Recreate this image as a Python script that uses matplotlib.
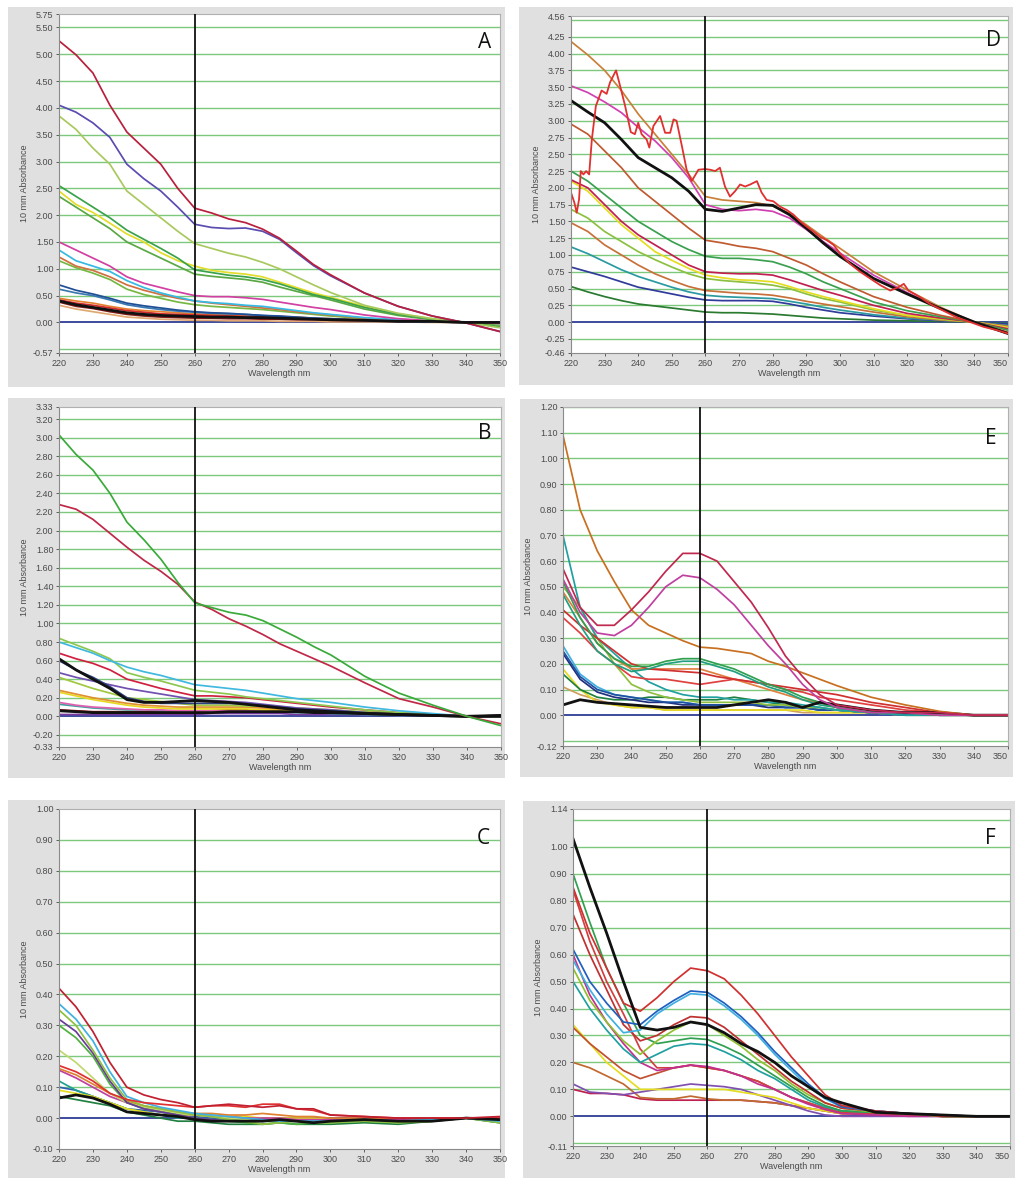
import matplotlib
matplotlib.use("Agg")
import matplotlib.pyplot as plt
from matplotlib.patches import Rectangle

W, H = 1015, 1178

# common wavelength grid (nm) for the sampled spectra
WL = [220, 225, 230, 235, 240, 245, 250, 255, 260, 265, 270,
      275, 280, 285, 290, 295, 300, 310, 320, 330, 340, 350]
X_TICKS = list(range(220, 351, 10))

# ---- panel A ----
A_SPECTRA = [
    [0.32, 0.25, 0.20, 0.15, 0.10, 0.08, 0.06, 0.05, 0.04, 0.04, 0.03, 0.03, 0.03, 0.02, 0.02, 0.02, 0.01, 0.01, 0.01, 0.00, 0.00, 0.00],
    [0.38, 0.30, 0.26, 0.20, 0.15, 0.12, 0.10, 0.09, 0.08, 0.08, 0.07, 0.07, 0.06, 0.06, 0.05, 0.05, 0.04, 0.03, 0.02, 0.01, 0.00, 0.00],
    [0.45, 0.40, 0.36, 0.30, 0.25, 0.22, 0.20, 0.18, 0.16, 0.15, 0.14, 0.13, 0.12, 0.11, 0.10, 0.08, 0.07, 0.05, 0.03, 0.01, 0.00, -0.01],
    [0.42, 0.36, 0.32, 0.27, 0.22, 0.19, 0.16, 0.15, 0.14, 0.13, 0.12, 0.11, 0.10, 0.09, 0.08, 0.07, 0.06, 0.04, 0.03, 0.02, 0.00, 0.00],
    [0.62, 0.55, 0.50, 0.42, 0.33, 0.28, 0.24, 0.21, 0.19, 0.17, 0.16, 0.15, 0.13, 0.11, 0.09, 0.08, 0.06, 0.04, 0.02, 0.01, 0.00, 0.00],
    [0.70, 0.60, 0.53, 0.45, 0.36, 0.31, 0.27, 0.23, 0.20, 0.18, 0.17, 0.15, 0.13, 0.12, 0.10, 0.08, 0.07, 0.04, 0.02, 0.01, 0.00, 0.00],
    [1.15, 1.02, 0.92, 0.80, 0.62, 0.52, 0.45, 0.38, 0.33, 0.30, 0.28, 0.26, 0.24, 0.21, 0.18, 0.15, 0.12, 0.07, 0.04, 0.02, 0.00, -0.02],
    [1.22, 1.05, 0.97, 0.85, 0.70, 0.60, 0.52, 0.45, 0.40, 0.36, 0.33, 0.30, 0.27, 0.24, 0.20, 0.17, 0.14, 0.08, 0.04, 0.02, 0.00, -0.01],
    [1.35, 1.15, 1.05, 0.95, 0.78, 0.65, 0.55, 0.47, 0.40, 0.37, 0.35, 0.32, 0.30, 0.26, 0.22, 0.18, 0.15, 0.09, 0.05, 0.02, 0.00, -0.02],
    [1.50, 1.35, 1.20, 1.05, 0.85, 0.73, 0.65, 0.57, 0.50, 0.48, 0.48, 0.46, 0.43, 0.38, 0.33, 0.28, 0.24, 0.14, 0.07, 0.03, 0.00, -0.02],
    [2.35, 2.15, 1.95, 1.75, 1.50, 1.35, 1.20, 1.05, 0.90, 0.86, 0.83, 0.80, 0.75, 0.66, 0.58, 0.50, 0.42, 0.25, 0.13, 0.05, 0.00, -0.06],
    [2.45, 2.20, 2.05, 1.85, 1.65, 1.50, 1.30, 1.15, 1.05, 0.97, 0.93, 0.90, 0.85, 0.75, 0.65, 0.55, 0.47, 0.30, 0.16, 0.07, 0.00, -0.08],
    [2.55, 2.35, 2.15, 1.95, 1.72, 1.55, 1.38, 1.20, 0.98, 0.93, 0.88, 0.85, 0.80, 0.72, 0.62, 0.52, 0.45, 0.28, 0.15, 0.06, 0.00, -0.08],
    [3.85, 3.60, 3.25, 2.95, 2.45, 2.20, 1.95, 1.70, 1.47, 1.38, 1.29, 1.22, 1.12, 1.00, 0.85, 0.70, 0.56, 0.32, 0.17, 0.07, 0.00, -0.10],
    [4.05, 3.92, 3.72, 3.45, 2.95, 2.68, 2.45, 2.15, 1.83, 1.77, 1.75, 1.76, 1.70, 1.55, 1.30, 1.06, 0.87, 0.55, 0.30, 0.12, -0.01, -0.17],
    [5.25, 4.99, 4.65, 4.05, 3.55, 3.25, 2.95, 2.50, 2.13, 2.04, 1.93, 1.86, 1.74, 1.57, 1.33, 1.08, 0.89, 0.55, 0.30, 0.12, -0.01, -0.17],
    [0.40, 0.33, 0.28, 0.23, 0.18, 0.15, 0.13, 0.12, 0.11, 0.10, 0.10, 0.09, 0.09, 0.08, 0.07, 0.06, 0.05, 0.04, 0.02, 0.02, 0.00, 0.00],
]
A_COLORS = ["#e0a870", "#8a1a1a", "#e48030", "#d42a2a", "#3a78b0", "#1f4f96",
            "#76b843", "#d0703e", "#36b9e2", "#d140a2", "#5aa844", "#e3dc2a",
            "#3aa24a", "#a9c95e", "#5a4cb0", "#b8203c", "#111111"]
A_YLIM = (-0.57, 5.75)
A_GRID = [-0.5, 0.5, 1.0, 1.5, 2.0, 2.5, 3.0, 3.5, 4.0, 4.5, 5.0, 5.5]
A_YTICKS = [-0.57, 0.0, 0.5, 1.0, 1.5, 2.0, 2.5, 3.0, 3.5, 4.0, 4.5, 5.0, 5.5, 5.75]

# ---- panel D ----
D_SPECTRA = [
    [0.53, 0.45, 0.38, 0.32, 0.27, 0.24, 0.21, 0.18, 0.15, 0.14, 0.14, 0.13, 0.12, 0.10, 0.08, 0.06, 0.05, 0.03, 0.02, 0.01, 0.00, -0.02],
    [0.82, 0.75, 0.68, 0.60, 0.52, 0.47, 0.42, 0.37, 0.33, 0.32, 0.32, 0.32, 0.31, 0.27, 0.22, 0.18, 0.14, 0.09, 0.05, 0.02, 0.00, -0.03],
    [1.12, 1.02, 0.90, 0.78, 0.68, 0.60, 0.52, 0.45, 0.40, 0.38, 0.37, 0.36, 0.35, 0.31, 0.27, 0.22, 0.18, 0.11, 0.06, 0.03, 0.00, -0.05],
    [1.48, 1.35, 1.15, 1.00, 0.85, 0.72, 0.62, 0.53, 0.47, 0.45, 0.43, 0.42, 0.40, 0.36, 0.31, 0.27, 0.23, 0.15, 0.08, 0.03, 0.00, -0.06],
    [1.68, 1.55, 1.35, 1.20, 1.05, 0.93, 0.82, 0.72, 0.65, 0.62, 0.60, 0.58, 0.55, 0.50, 0.42, 0.35, 0.30, 0.18, 0.10, 0.04, 0.00, -0.08],
    [2.10, 1.95, 1.70, 1.45, 1.25, 1.05, 0.92, 0.80, 0.70, 0.66, 0.63, 0.62, 0.60, 0.53, 0.45, 0.38, 0.32, 0.20, 0.10, 0.05, 0.00, -0.08],
    [2.12, 2.00, 1.75, 1.50, 1.30, 1.15, 1.00, 0.85, 0.75, 0.73, 0.72, 0.72, 0.70, 0.63, 0.55, 0.47, 0.40, 0.25, 0.13, 0.06, 0.00, -0.10],
    [2.25, 2.10, 1.90, 1.70, 1.50, 1.35, 1.20, 1.08, 0.98, 0.95, 0.95, 0.93, 0.90, 0.82, 0.72, 0.60, 0.50, 0.30, 0.17, 0.08, 0.00, -0.12],
    [2.95, 2.80, 2.55, 2.30, 2.00, 1.80, 1.60, 1.40, 1.22, 1.18, 1.13, 1.10, 1.05, 0.95, 0.85, 0.72, 0.60, 0.38, 0.22, 0.10, 0.00, -0.15],
    [4.18, 3.98, 3.75, 3.45, 3.10, 2.80, 2.50, 2.20, 1.87, 1.82, 1.80, 1.78, 1.73, 1.62, 1.45, 1.27, 1.10, 0.75, 0.48, 0.22, 0.00, -0.17],
    [3.52, 3.42, 3.28, 3.12, 2.90, 2.70, 2.45, 2.15, 1.75, 1.68, 1.66, 1.68, 1.65, 1.55, 1.38, 1.20, 1.03, 0.70, 0.44, 0.20, 0.00, -0.17],
    [3.30, 3.13, 2.97, 2.72, 2.45, 2.30, 2.15, 1.95, 1.68, 1.65, 1.70, 1.75, 1.74, 1.60, 1.40, 1.18, 0.98, 0.65, 0.42, 0.20, 0.00, -0.17],
]
D_COLORS = ["#2a7a30", "#303a9a", "#2a9aa0", "#c8703a", "#8cc040", "#e6dc22",
            "#c02050", "#3aa050", "#c05a30", "#c8803a", "#d040b0", "#111111"]
# the noisy red trace is sampled on its own wavelengths
D_RED_WL = [220, 221, 221.7, 222.4, 222.9, 223.7, 224.5, 225.4, 226.2, 227.4, 229.1,
            230.6, 231.6, 233.4, 234.6, 236.1, 237.8, 239, 240, 241, 242.5, 243.3,
            244.5, 246.5, 248, 249.5, 250.5, 251.4, 253, 254.4, 255.9, 257.9, 259.9,
            261.4, 262.9, 264.3, 265.8, 267.3, 268.8, 270.3, 271.8, 273.3, 275.3,
            276.7, 278.2, 280.2, 282.2, 284.2, 286.2, 288.2, 290.2, 292.1, 294.1,
            296.1, 298.1, 300.1, 303, 306, 309, 312, 315, 317.4, 319, 320.4, 323.9,
            326.8, 330.8, 334.8, 338.8, 342.7, 346.7, 350]
D_RED = [1.93, 1.78, 1.63, 1.83, 2.25, 2.20, 2.25, 2.20, 2.72, 3.22, 3.45,
         3.40, 3.57, 3.75, 3.52, 3.22, 2.83, 2.80, 2.97, 2.80, 2.72, 2.60,
         2.92, 3.07, 2.82, 2.82, 3.02, 3.00, 2.62, 2.27, 2.10, 2.27, 2.28,
         2.27, 2.25, 2.30, 2.02, 1.87, 1.95, 2.05, 2.02, 2.05, 2.10,
         1.93, 1.82, 1.80, 1.72, 1.67, 1.60, 1.50, 1.42, 1.35, 1.27,
         1.22, 1.15, 1.02, 0.87, 0.75, 0.65, 0.55, 0.47, 0.52, 0.57, 0.47, 0.37,
         0.27, 0.17, 0.07, 0.00, -0.07, -0.12, -0.17]
D_YLIM = (-0.46, 4.56)
D_GRID = [-0.25] + [0.25 * k for k in range(1, 19)]
D_YTICKS = [-0.46, -0.25] + [0.25 * k for k in range(0, 18)] + [4.56]

# ---- panel B ----
B_SPECTRA = [
    [0.02, 0.02, 0.02, 0.02, 0.02, 0.02, 0.02, 0.02, 0.02, 0.03, 0.03, 0.03, 0.03, 0.03, 0.02, 0.02, 0.02, 0.02, 0.01, 0.01, 0.00, 0.01],
    [0.07, 0.06, 0.05, 0.05, 0.05, 0.05, 0.05, 0.05, 0.05, 0.06, 0.07, 0.07, 0.07, 0.06, 0.06, 0.05, 0.04, 0.03, 0.02, 0.01, 0.00, 0.01],
    [0.13, 0.11, 0.09, 0.08, 0.07, 0.07, 0.06, 0.06, 0.06, 0.06, 0.06, 0.06, 0.05, 0.05, 0.04, 0.04, 0.03, 0.02, 0.01, 0.01, 0.00, 0.00],
    [0.15, 0.12, 0.10, 0.09, 0.08, 0.07, 0.07, 0.06, 0.06, 0.06, 0.06, 0.06, 0.06, 0.05, 0.05, 0.04, 0.04, 0.03, 0.02, 0.01, 0.00, 0.00],
    [0.26, 0.22, 0.18, 0.15, 0.12, 0.10, 0.09, 0.08, 0.08, 0.08, 0.08, 0.08, 0.07, 0.07, 0.06, 0.05, 0.05, 0.03, 0.02, 0.01, 0.00, 0.00],
    [0.28, 0.24, 0.20, 0.17, 0.14, 0.12, 0.11, 0.10, 0.10, 0.10, 0.10, 0.10, 0.09, 0.08, 0.08, 0.07, 0.06, 0.04, 0.02, 0.01, 0.00, 0.00],
    [0.42, 0.36, 0.30, 0.25, 0.20, 0.18, 0.16, 0.14, 0.12, 0.12, 0.12, 0.11, 0.11, 0.10, 0.09, 0.08, 0.07, 0.05, 0.03, 0.01, 0.00, 0.00],
    [0.47, 0.42, 0.38, 0.34, 0.30, 0.27, 0.24, 0.21, 0.18, 0.17, 0.16, 0.15, 0.13, 0.11, 0.09, 0.08, 0.07, 0.04, 0.02, 0.01, 0.00, 0.00],
    [0.60, 0.50, 0.42, 0.32, 0.20, 0.16, 0.14, 0.14, 0.14, 0.14, 0.14, 0.13, 0.12, 0.10, 0.08, 0.07, 0.06, 0.04, 0.02, 0.01, 0.00, 0.00],
    [0.68, 0.62, 0.57, 0.50, 0.40, 0.35, 0.30, 0.26, 0.22, 0.22, 0.21, 0.20, 0.18, 0.16, 0.14, 0.12, 0.10, 0.07, 0.04, 0.02, 0.00, 0.00],
    [0.84, 0.77, 0.70, 0.62, 0.47, 0.42, 0.38, 0.33, 0.28, 0.26, 0.24, 0.21, 0.19, 0.17, 0.15, 0.13, 0.11, 0.07, 0.04, 0.02, 0.00, 0.00],
    [0.80, 0.74, 0.68, 0.60, 0.53, 0.48, 0.44, 0.39, 0.34, 0.32, 0.30, 0.28, 0.25, 0.22, 0.19, 0.17, 0.15, 0.10, 0.06, 0.03, 0.00, 0.00],
    [0.62, 0.50, 0.40, 0.30, 0.18, 0.15, 0.15, 0.16, 0.17, 0.16, 0.15, 0.13, 0.11, 0.09, 0.07, 0.06, 0.05, 0.03, 0.02, 0.01, 0.00, 0.00],
    [0.06, 0.05, 0.04, 0.04, 0.04, 0.04, 0.04, 0.04, 0.04, 0.04, 0.05, 0.05, 0.05, 0.05, 0.05, 0.04, 0.04, 0.03, 0.02, 0.01, 0.00, 0.01],
    [2.28, 2.23, 2.12, 1.97, 1.82, 1.68, 1.56, 1.42, 1.23, 1.15, 1.05, 0.97, 0.88, 0.78, 0.70, 0.62, 0.54, 0.36, 0.19, 0.10, 0.00, -0.08],
    [3.03, 2.82, 2.65, 2.40, 2.09, 1.90, 1.69, 1.44, 1.22, 1.17, 1.12, 1.09, 1.03, 0.94, 0.85, 0.75, 0.66, 0.43, 0.25, 0.12, 0.00, -0.10],
]
B_COLORS = ["#7a3aa0", "#8a1010", "#40a0a0", "#e060b0", "#e8d820", "#e09030",
            "#a0c840", "#7050b0", "#304080", "#d02040", "#8cc850", "#40b8e0",
            "#111111", "#111111", "#c02848", "#3aaa3a"]
B_YLIM = (-0.33, 3.33)
B_GRID = [round(0.2 * k, 2) for k in range(-1, 17) if k != 0]
B_YTICKS = [-0.33] + [round(0.2 * k, 2) for k in range(-1, 17)] + [3.33]

# ---- panel E ----
E_SPECTRA = [
    [0.11, 0.08, 0.06, 0.04, 0.03, 0.03, 0.02, 0.02, 0.02, 0.02, 0.02, 0.02, 0.02, 0.02, 0.01, 0.01, 0.01, 0.01, 0.00, 0.00, 0.00, 0.00],
    [0.18, 0.10, 0.05, 0.04, 0.03, 0.03, 0.02, 0.02, 0.02, 0.02, 0.02, 0.02, 0.02, 0.02, 0.02, 0.01, 0.01, 0.01, 0.00, 0.00, 0.00, 0.00],
    [0.16, 0.10, 0.07, 0.06, 0.06, 0.07, 0.07, 0.06, 0.06, 0.06, 0.07, 0.06, 0.05, 0.04, 0.03, 0.03, 0.02, 0.01, 0.01, 0.00, 0.00, 0.00],
    [0.27, 0.16, 0.11, 0.08, 0.07, 0.06, 0.05, 0.05, 0.04, 0.04, 0.04, 0.04, 0.04, 0.03, 0.03, 0.02, 0.02, 0.01, 0.00, 0.00, 0.00, 0.00],
    [0.24, 0.14, 0.09, 0.07, 0.06, 0.05, 0.05, 0.04, 0.04, 0.04, 0.04, 0.04, 0.03, 0.03, 0.03, 0.02, 0.02, 0.01, 0.00, 0.00, 0.00, 0.00],
    [0.25, 0.15, 0.10, 0.08, 0.07, 0.06, 0.05, 0.05, 0.04, 0.04, 0.04, 0.04, 0.04, 0.03, 0.03, 0.02, 0.02, 0.01, 0.01, 0.00, 0.00, 0.00],
    [0.50, 0.42, 0.30, 0.20, 0.12, 0.09, 0.07, 0.06, 0.05, 0.05, 0.05, 0.05, 0.04, 0.04, 0.03, 0.03, 0.02, 0.01, 0.01, 0.00, 0.00, 0.00],
    [0.70, 0.42, 0.30, 0.24, 0.18, 0.13, 0.10, 0.08, 0.07, 0.07, 0.06, 0.06, 0.05, 0.05, 0.04, 0.03, 0.02, 0.01, 0.00, 0.00, 0.00, 0.00],
    [0.38, 0.32, 0.25, 0.20, 0.15, 0.14, 0.14, 0.13, 0.12, 0.13, 0.14, 0.13, 0.12, 0.10, 0.09, 0.07, 0.06, 0.04, 0.02, 0.01, 0.00, 0.00],
    [0.48, 0.38, 0.28, 0.22, 0.18, 0.18, 0.18, 0.18, 0.18, 0.16, 0.14, 0.12, 0.10, 0.08, 0.06, 0.05, 0.03, 0.02, 0.01, 0.00, 0.00, 0.00],
    [0.41, 0.35, 0.30, 0.25, 0.20, 0.18, 0.175, 0.17, 0.165, 0.15, 0.14, 0.13, 0.12, 0.11, 0.10, 0.09, 0.08, 0.05, 0.03, 0.01, 0.00, 0.00],
    [0.47, 0.35, 0.25, 0.20, 0.17, 0.18, 0.20, 0.21, 0.21, 0.19, 0.17, 0.14, 0.11, 0.09, 0.06, 0.04, 0.03, 0.01, 0.01, 0.00, 0.00, 0.00],
    [0.52, 0.38, 0.28, 0.22, 0.19, 0.19, 0.21, 0.22, 0.22, 0.20, 0.18, 0.15, 0.12, 0.10, 0.07, 0.05, 0.03, 0.01, 0.01, 0.00, 0.00, 0.00],
    [0.04, 0.06, 0.05, 0.045, 0.04, 0.035, 0.03, 0.03, 0.03, 0.03, 0.04, 0.05, 0.06, 0.05, 0.03, 0.05, 0.04, 0.02, 0.01, 0.01, 0.00, 0.00],
    [1.09, 0.80, 0.64, 0.52, 0.41, 0.35, 0.32, 0.29, 0.265, 0.26, 0.25, 0.24, 0.21, 0.19, 0.165, 0.14, 0.115, 0.07, 0.04, 0.015, 0.00, 0.00],
    [0.53, 0.40, 0.32, 0.31, 0.35, 0.42, 0.50, 0.545, 0.535, 0.49, 0.43, 0.35, 0.27, 0.20, 0.12, 0.06, 0.03, 0.01, 0.01, 0.00, 0.00, 0.00],
    [0.57, 0.42, 0.35, 0.35, 0.41, 0.48, 0.56, 0.63, 0.63, 0.60, 0.52, 0.44, 0.34, 0.23, 0.15, 0.08, 0.04, 0.02, 0.01, 0.01, 0.00, 0.00],
]
E_COLORS = ["#d0a060", "#e6dc22", "#208040", "#40b0e0", "#203080", "#2050a0",
            "#90c040", "#20a0a0", "#e04040", "#e08040", "#d03030", "#20a080",
            "#30a050", "#111111", "#c87020", "#c040a0", "#c02850"]
E_YLIM = (-0.12, 1.20)
E_GRID = [round(0.1 * k, 2) for k in range(-1, 13) if k != 0]
E_YTICKS = [-0.12] + [round(0.1 * k, 2) for k in range(0, 13)]

# ---- panel C ----
C_SPECTRA = [
    [0.07, 0.06, 0.05, 0.04, 0.02, 0.01, 0.00, -0.01, -0.01, -0.015, -0.02, -0.02, -0.02, -0.015, -0.02, -0.02, -0.02, -0.015, -0.02, -0.01, 0.00, -0.015],
    [0.10, 0.09, 0.07, 0.05, 0.03, 0.025, 0.02, 0.01, 0.005, 0.00, -0.005, -0.005, 0.00, -0.005, -0.005, -0.01, -0.01, -0.005, -0.01, -0.005, 0.00, 0.00],
    [0.12, 0.09, 0.07, 0.05, 0.03, 0.02, 0.01, 0.00, 0.00, -0.005, -0.01, -0.01, -0.01, -0.01, -0.01, -0.01, -0.01, -0.005, -0.01, -0.005, 0.00, -0.01],
    [0.09, 0.08, 0.07, 0.05, 0.03, 0.02, 0.01, 0.01, 0.01, 0.01, 0.005, 0.005, 0.00, 0.00, 0.00, 0.00, -0.005, 0.00, -0.005, 0.00, 0.00, 0.00],
    [0.155, 0.13, 0.10, 0.07, 0.05, 0.035, 0.025, 0.015, 0.01, 0.005, 0.005, 0.00, 0.00, 0.00, -0.005, -0.005, -0.005, 0.00, -0.005, 0.00, 0.00, 0.00],
    [0.16, 0.14, 0.11, 0.08, 0.055, 0.04, 0.03, 0.02, 0.015, 0.015, 0.01, 0.01, 0.015, 0.01, 0.005, 0.005, 0.00, 0.00, 0.00, 0.00, 0.00, 0.00],
    [0.22, 0.18, 0.13, 0.08, 0.05, 0.035, 0.025, 0.015, 0.01, 0.005, 0.00, -0.005, -0.01, -0.01, -0.01, -0.01, -0.01, -0.005, -0.01, -0.005, 0.00, -0.01],
    [0.30, 0.26, 0.20, 0.11, 0.05, 0.03, 0.02, 0.01, 0.00, -0.005, -0.01, -0.015, -0.02, -0.015, -0.02, -0.015, -0.015, -0.01, -0.015, -0.01, 0.00, -0.015],
    [0.32, 0.28, 0.21, 0.12, 0.05, 0.03, 0.02, 0.01, 0.00, -0.005, -0.01, -0.01, -0.005, -0.01, -0.01, -0.01, -0.01, -0.005, -0.01, -0.005, 0.00, -0.005],
    [0.35, 0.30, 0.22, 0.13, 0.06, 0.04, 0.03, 0.02, 0.01, 0.005, -0.005, -0.01, -0.02, -0.015, -0.01, -0.015, -0.015, -0.01, -0.015, -0.01, 0.00, -0.015],
    [0.37, 0.32, 0.25, 0.15, 0.07, 0.05, 0.035, 0.025, 0.015, 0.01, 0.005, 0.00, -0.005, -0.01, -0.01, -0.01, -0.01, -0.005, -0.01, -0.005, 0.00, -0.01],
    [0.17, 0.15, 0.12, 0.08, 0.06, 0.05, 0.045, 0.04, 0.035, 0.04, 0.04, 0.035, 0.045, 0.045, 0.03, 0.025, 0.01, 0.005, 0.00, 0.00, 0.00, 0.00],
    [0.065, 0.075, 0.065, 0.045, 0.02, 0.015, 0.01, 0.005, -0.005, -0.01, -0.01, -0.01, -0.01, -0.005, -0.01, -0.015, -0.01, -0.005, -0.01, -0.01, 0.00, -0.005],
    [0.42, 0.36, 0.28, 0.18, 0.10, 0.075, 0.06, 0.05, 0.035, 0.04, 0.045, 0.04, 0.035, 0.04, 0.03, 0.03, 0.01, 0.005, 0.00, 0.00, 0.00, 0.005],
]
C_COLORS = ["#208040", "#3060b0", "#20a090", "#e6dc22", "#c040a0", "#e08030",
            "#c0d870", "#50b040", "#6a3a9a", "#90c040", "#40b0e0", "#e03030",
            "#111111", "#c02030"]
C_YLIM = (-0.10, 1.00)
C_GRID = [round(0.1 * k, 2) for k in range(1, 10)]
C_YTICKS = [round(0.1 * k, 2) for k in range(-1, 11)]

# ---- panel F ----
F_SPECTRA = [
    [0.10, 0.085, 0.085, 0.08, 0.065, 0.06, 0.06, 0.06, 0.06, 0.06, 0.06, 0.055, 0.05, 0.04, 0.03, 0.02, 0.01, 0.01, 0.005, 0.00, 0.00, 0.00],
    [0.20, 0.18, 0.15, 0.12, 0.07, 0.065, 0.065, 0.075, 0.065, 0.06, 0.06, 0.055, 0.05, 0.04, 0.03, 0.02, 0.01, 0.01, 0.005, 0.00, 0.00, 0.00],
    [0.12, 0.09, 0.085, 0.08, 0.09, 0.10, 0.11, 0.12, 0.115, 0.11, 0.10, 0.08, 0.06, 0.04, 0.02, 0.005, 0.00, 0.00, 0.00, 0.00, 0.00, 0.00],
    [0.34, 0.27, 0.20, 0.15, 0.10, 0.10, 0.10, 0.10, 0.10, 0.10, 0.09, 0.08, 0.07, 0.05, 0.03, 0.02, 0.01, 0.01, 0.005, 0.00, 0.00, 0.00],
    [0.33, 0.27, 0.22, 0.17, 0.14, 0.16, 0.18, 0.19, 0.18, 0.17, 0.15, 0.13, 0.10, 0.07, 0.05, 0.03, 0.015, 0.01, 0.005, 0.00, 0.00, 0.00],
    [0.84, 0.65, 0.50, 0.38, 0.25, 0.18, 0.18, 0.19, 0.18, 0.17, 0.15, 0.13, 0.10, 0.07, 0.05, 0.03, 0.015, 0.01, 0.005, 0.00, 0.00, 0.00],
    [0.60, 0.45, 0.35, 0.27, 0.20, 0.17, 0.18, 0.19, 0.185, 0.17, 0.15, 0.12, 0.10, 0.07, 0.045, 0.025, 0.01, 0.005, 0.00, 0.00, 0.00, 0.00],
    [0.50, 0.40, 0.32, 0.25, 0.20, 0.23, 0.26, 0.27, 0.265, 0.24, 0.21, 0.17, 0.14, 0.10, 0.06, 0.035, 0.02, 0.015, 0.01, 0.00, 0.00, 0.00],
    [0.90, 0.72, 0.55, 0.42, 0.30, 0.27, 0.28, 0.29, 0.285, 0.26, 0.23, 0.19, 0.15, 0.11, 0.07, 0.04, 0.02, 0.015, 0.01, 0.00, 0.00, 0.00],
    [0.55, 0.43, 0.35, 0.28, 0.23, 0.28, 0.32, 0.35, 0.34, 0.30, 0.26, 0.21, 0.17, 0.12, 0.08, 0.05, 0.03, 0.015, 0.01, 0.00, 0.00, 0.00],
    [0.75, 0.60, 0.47, 0.34, 0.28, 0.30, 0.34, 0.37, 0.365, 0.33, 0.28, 0.23, 0.18, 0.13, 0.09, 0.05, 0.03, 0.02, 0.01, 0.00, 0.00, 0.00],
    [0.58, 0.47, 0.38, 0.31, 0.32, 0.38, 0.42, 0.455, 0.45, 0.41, 0.36, 0.30, 0.23, 0.17, 0.11, 0.065, 0.035, 0.02, 0.01, 0.005, 0.00, 0.00],
    [0.62, 0.50, 0.42, 0.35, 0.34, 0.39, 0.43, 0.465, 0.46, 0.42, 0.37, 0.31, 0.24, 0.18, 0.12, 0.07, 0.035, 0.02, 0.01, 0.005, 0.00, 0.00],
    [0.85, 0.68, 0.55, 0.42, 0.39, 0.44, 0.50, 0.55, 0.54, 0.51, 0.45, 0.38, 0.30, 0.22, 0.15, 0.08, 0.04, 0.02, 0.01, 0.005, 0.00, 0.00],
    [1.03, 0.85, 0.68, 0.50, 0.33, 0.32, 0.33, 0.35, 0.34, 0.31, 0.27, 0.24, 0.20, 0.15, 0.11, 0.07, 0.05, 0.015, 0.01, 0.005, 0.00, 0.00],
]
F_COLORS = ["#c02050", "#c06a30", "#8050b0", "#e6dc22", "#c05030", "#d04040",
            "#c03090", "#20a0a0", "#30a050", "#90c030", "#c03030", "#40b0e0",
            "#2060c0", "#d03030", "#111111"]
F_YLIM = (-0.11, 1.14)
F_GRID = [round(0.1 * k, 2) for k in range(-1, 12) if k != 0]
F_YTICKS = [-0.11] + [round(0.1 * k, 2) for k in range(0, 11)] + [1.14]

GRAY = "#e0e0e0"
GRID_GREEN = "#7cc97c"
ZERO_BLUE = "#1c2c8c"
TEXT = "#4a4a4a"


def frac(x1, y1, x2, y2):
    """pixel box (top-left origin) -> figure fraction rect"""
    return [x1 / W, 1 - y2 / H, (x2 - x1) / W, (y2 - y1) / H]


def draw_panel(fig, box, plot, letter, letter_xy, spectra, colors, ylim, grid, yticks,
               extra=None):
    bx1, by1, bx2, by2 = box
    fig.add_artist(Rectangle((bx1 / W, 1 - by2 / H), (bx2 - bx1) / W, (by2 - by1) / H,
                             transform=fig.transFigure, facecolor=GRAY,
                             edgecolor="none", zorder=0))
    ax = fig.add_axes(frac(*plot))
    ax.set_zorder(1)
    ax.set_facecolor("white")
    ax.set_xlim(220, 350)
    ax.set_ylim(*ylim)

    for g in grid:
        ax.axhline(g, color=GRID_GREEN, lw=1.0, zorder=1)
    ax.axhline(0, color=ZERO_BLUE, lw=1.2, zorder=1.5)

    for vals, col in zip(spectra, colors):
        lw = 2.0 if col == "#111111" else 1.25
        ax.plot(WL, vals, color=col, lw=lw, zorder=2)
    if extra is not None:
        ax.plot(extra[0], extra[1], color=extra[2], lw=1.3, zorder=2.5)

    ax.axvline(260, color="#111111", lw=1.3, zorder=3)

    ax.set_xticks(X_TICKS)
    ax.set_xticklabels([str(t) for t in X_TICKS])
    ax.set_yticks(yticks)
    ax.set_yticklabels(["%.2f" % t for t in yticks])
    ax.tick_params(axis="both", labelsize=6.5, colors=TEXT, length=2, width=0.6, pad=2)
    # right-hand panels run to the page edge: keep the last wavelength label inside
    if plot[2] > W - 12:
        ax.get_xticklabels()[-1].set_horizontalalignment("right")
    for side in ("left", "bottom"):
        ax.spines[side].set_color("#8a8a8a")
        ax.spines[side].set_linewidth(0.8)
    for side in ("top", "right"):
        ax.spines[side].set_color("#b0b0b0")
        ax.spines[side].set_linewidth(0.8)

    ax.set_xlabel("Wavelength nm", fontsize=6.5, color=TEXT, labelpad=1)
    ax.set_ylabel("10 mm Absorbance", fontsize=6.5, color=TEXT, labelpad=3)

    fig.text(letter_xy[0] / W, 1 - letter_xy[1] / H, letter, fontsize=15,
             family=["Open Sans", "DejaVu Sans"], color="#111111",
             ha="center", va="center", zorder=5)
    return ax


def main():
    plt.rcParams["font.family"] = ["Liberation Sans", "DejaVu Sans"]
    fig = plt.figure(figsize=(W / 100, H / 100), dpi=100)
    fig.patch.set_facecolor("white")

    draw_panel(fig, (8, 7, 505, 387), (59, 14, 500, 353), "A", (485, 42),
               A_SPECTRA, A_COLORS, A_YLIM, A_GRID, A_YTICKS)
    draw_panel(fig, (519, 7, 1013, 385), (571, 16, 1008, 353), "D", (993, 40),
               D_SPECTRA, D_COLORS, D_YLIM, D_GRID, D_YTICKS,
               extra=(D_RED_WL, D_RED, "#e03030"))
    draw_panel(fig, (8, 398, 505, 778), (59, 407, 501, 747), "B", (485, 433),
               B_SPECTRA, B_COLORS, B_YLIM, B_GRID, B_YTICKS)
    draw_panel(fig, (520, 399, 1013, 777), (563, 407, 1008, 746), "E", (991, 438),
               E_SPECTRA, E_COLORS, E_YLIM, E_GRID, E_YTICKS)
    draw_panel(fig, (8, 800, 505, 1178), (59, 809, 500, 1149), "C", (483, 838),
               C_SPECTRA, C_COLORS, C_YLIM, C_GRID, C_YTICKS)
    draw_panel(fig, (523, 801, 1015, 1178), (573, 809, 1010, 1146), "F", (990, 838),
               F_SPECTRA, F_COLORS, F_YLIM, F_GRID, F_YTICKS)

    fig.savefig("out.png", dpi=100, facecolor="white")


if __name__ == "__main__":
    main()
